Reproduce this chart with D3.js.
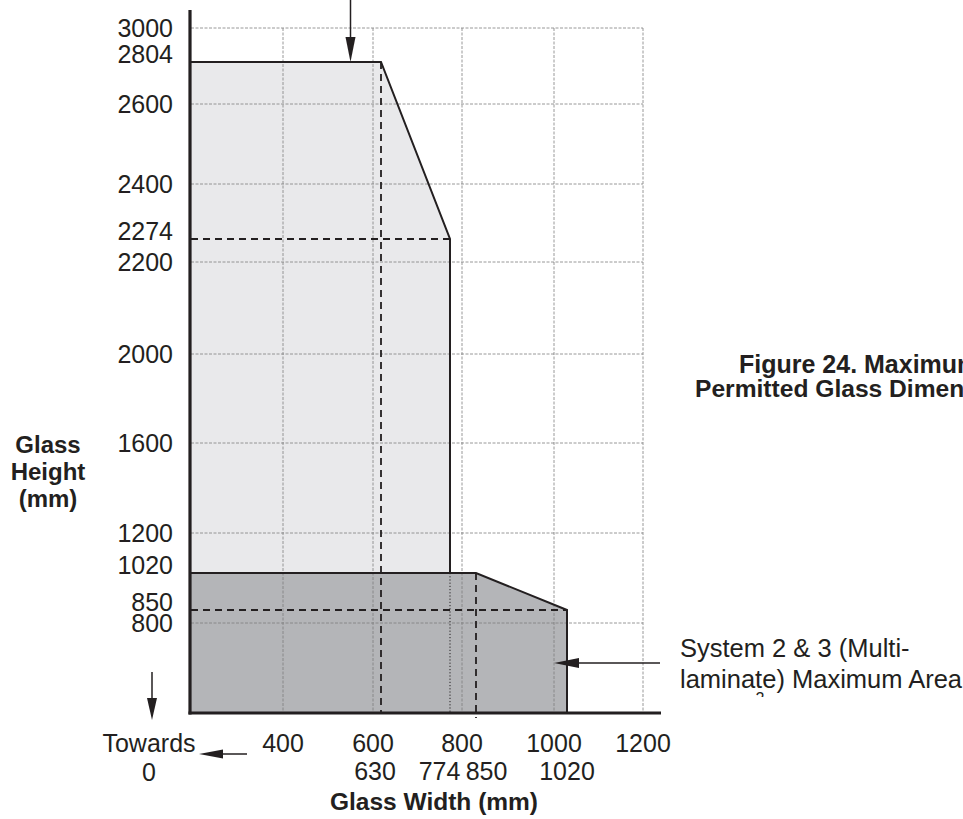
<!DOCTYPE html>
<html>
<head>
<meta charset="utf-8">
<script src="https://cdn.jsdelivr.net/npm/d3@7"></script>
<style>
  html, body { margin: 0; padding: 0; background: #fff; }
  svg { display: block; }
  text { font-family: "Liberation Sans", Arial, Helvetica, sans-serif; fill: #231f20; }
</style>
</head>
<body>
<svg id="chart" width="963" height="819"></svg>
<script>
// ---------------- data ----------------
const yTicks = [3000, 2600, 2400, 2200, 2000, 1600, 1200, 800];      // grid values, height (mm)
const yMarks = [2804, 2274, 1020, 850];                             // limit values, height (mm)
const xTicks = [400, 600, 800, 1000, 1200];                         // grid values, width (mm)
const xMarks = [630, 774, 850, 1020];                               // limit values, width (mm)
const widthStart = 200;                                             // axis starts "towards 0"
// System 1 (upper, light) maximum area outline: [width, height]
const upperArea = [[200, 2804], [630, 2804], [774, 2274], [774, 1020]];
// System 2 & 3 (multi-laminate, dark) maximum area outline: [width, height]
const lowerArea = [[200, 0], [200, 1020], [850, 1020], [1020, 850], [1020, 0]];
const titleLines = ["Figure 24. Maximum", "Permitted Glass Dimensions"];
const yTitleLines = ["Glass", "Height", "(mm)"];
const xTitle = "Glass Width (mm)";
const noteLines = ["System 2 & 3 (Multi-", "laminate) Maximum Area"];
const towardsLines = ["Towards", "0"];

// ---------------- scales (the original drawing is hand-spaced: piecewise calibration) ----------------
const yDomain = [0, 800, 850, 1020, 1200, 1600, 2000, 2200, 2274, 2400, 2600, 2804, 3000];
const yRange  = [713, 623, 610, 573, 533, 443, 354, 262, 239, 184, 104, 62, 28];
const y = d3.scaleLinear().domain(yDomain).range(yRange);
const xDomain = [200, 400, 600, 630, 774, 800, 850, 1000, 1020, 1200];
const xRange  = [191, 283, 373, 381, 450, 462, 476, 554, 567, 643];
const x = d3.scaleLinear().domain(xDomain).range(xRange);

const svg = d3.select("#chart");
const ink = "#231f20";
const x0 = x(widthStart), xEnd = x(d3.max(xTicks));
const y0 = y(0), yTop = y(d3.max(yTicks));

// ---------------- fills ----------------
const line = d3.line().x(d => x(d[0])).y(d => y(d[1]));
const upperFill = [[widthStart, 0], ...upperArea, [upperArea[upperArea.length - 1][0], 0]];
svg.append("path").attr("d", line(upperFill) + "Z").attr("fill", "#e9e9eb").attr("stroke", "none");
svg.append("path").attr("d", line(lowerArea) + "Z").attr("fill", "#b4b5b8").attr("stroke", "none");

// ---------------- grid ----------------
const grid = svg.append("g").attr("stroke", "#7d7d7f").attr("stroke-width", 0.8)
  .attr("stroke-dasharray", "3,1.5").attr("fill", "none");
yTicks.forEach(v => grid.append("line").attr("x1", x0).attr("x2", xEnd).attr("y1", y(v)).attr("y2", y(v)));
xTicks.forEach(v => grid.append("line").attr("x1", x(v)).attr("x2", x(v)).attr("y1", yTop).attr("y2", y0));

// ---------------- reference (dashed) lines ----------------
const dash = svg.append("g").attr("stroke", ink).attr("stroke-width", 1.8)
  .attr("stroke-dasharray", "7,5").attr("fill", "none");
dash.append("line").attr("x1", x(xMarks[0])).attr("x2", x(xMarks[0])).attr("y1", y(yMarks[0])).attr("y2", y0);
dash.append("line").attr("x1", x0).attr("x2", x(xMarks[1])).attr("y1", y(yMarks[1])).attr("y2", y(yMarks[1]));
dash.append("line").attr("x1", x(xMarks[2])).attr("x2", x(xMarks[2])).attr("y1", y(yMarks[2])).attr("y2", y0 + 5);
dash.append("line").attr("x1", x0).attr("x2", x(xMarks[3])).attr("y1", y(yMarks[3])).attr("y2", y(yMarks[3]));
svg.append("line").attr("x1", x(xMarks[1])).attr("x2", x(xMarks[1])).attr("y1", y(yMarks[2])).attr("y2", y0)
  .attr("stroke", ink).attr("stroke-width", 1).attr("stroke-dasharray", "1.2,2");

// ---------------- outlines ----------------
svg.append("path").attr("d", line(upperArea)).attr("fill", "none").attr("stroke", ink).attr("stroke-width", 2);
svg.append("path").attr("d", line(lowerArea.slice(1))).attr("fill", "none").attr("stroke", ink).attr("stroke-width", 2);

// ---------------- axes ----------------
svg.append("line").attr("x1", x0 - 1).attr("x2", x0 - 1).attr("y1", 10).attr("y2", y0 + 1.5)
  .attr("stroke", ink).attr("stroke-width", 3.2);
svg.append("line").attr("x1", x0 - 2.5).attr("x2", 661).attr("y1", y0).attr("y2", y0)
  .attr("stroke", ink).attr("stroke-width", 3.2);

// ---------------- tick labels ----------------
const fs = 25;
const yl = svg.append("g").attr("font-size", fs).attr("text-anchor", "end");
yTicks.forEach(v => yl.append("text").attr("x", 173).attr("y", y(v)).attr("dy", "0.35em").text(v));
yMarks.forEach(v => yl.append("text").attr("x", 173).attr("y", y(v) - 8).attr("dy", "0.35em").text(v));

const xl = svg.append("g").attr("font-size", fs).attr("text-anchor", "middle");
xTicks.forEach(v => xl.append("text").attr("x", x(v)).attr("y", y0 + 39).text(v));
// second row: relax positions so neighbouring labels do not overlap
const pos = xMarks.map(v => x(v));
const minSep = 47;
for (let it = 0; it < 50; it++) {
  for (let i = 1; i < pos.length; i++) {
    const gap = pos[i] - pos[i - 1];
    if (gap < minSep) { const d = (minSep - gap) / 2; pos[i - 1] -= d; pos[i] += d; }
  }
}
xMarks.forEach((v, i) => xl.append("text").attr("x", pos[i] - (i === 0 ? 6 : 0)).attr("y", y0 + 67).text(v));

// ---------------- titles ----------------
svg.append("text").attr("x", 434).attr("y", y0 + 97).attr("text-anchor", "middle")
  .attr("font-size", 24.5).attr("font-weight", "bold").text(xTitle);
yTitleLines.forEach((t, i) => svg.append("text").attr("x", 48).attr("y", 453 + i * 27)
  .attr("text-anchor", "middle").attr("font-size", 24).attr("font-weight", "bold").text(t));
svg.append("text").attr("x", 739).attr("y", 373).attr("font-size", 25).attr("font-weight", "bold").text(titleLines[0]);
svg.append("text").attr("x", 695).attr("y", 397).attr("font-size", 24.6).attr("font-weight", "bold").text(titleLines[1]);
towardsLines.forEach((t, i) => svg.append("text").attr("x", 149).attr("y", y0 + 39 + i * 29)
  .attr("text-anchor", "middle").attr("font-size", fs).text(t));
noteLines.forEach((t, i) => svg.append("text").attr("x", 680).attr("y", 657 + i * 31)
  .attr("font-size", 25.5).text(t));
// clipped superscript fragment under the note
svg.append("clipPath").attr("id", "supClip").append("rect").attr("x", 740).attr("y", 690).attr("width", 40).attr("height", 7);
svg.append("text").attr("x", 760).attr("y", 704).attr("text-anchor", "middle").attr("font-size", 16)
  .attr("clip-path", "url(#supClip)").text("2");

// ---------------- arrows ----------------
function arrow(x1, y1, x2, y2, len, wid) {
  const a = Math.atan2(y2 - y1, x2 - x1);
  const bx = x2 - len * Math.cos(a), by = y2 - len * Math.sin(a);
  const px = -Math.sin(a) * wid / 2, py = Math.cos(a) * wid / 2;
  svg.append("line").attr("x1", x1).attr("y1", y1).attr("x2", bx).attr("y2", by)
    .attr("stroke", ink).attr("stroke-width", 1.5);
  svg.append("path").attr("d", `M${x2},${y2}L${bx + px},${by + py}L${bx - px},${by - py}Z`).attr("fill", ink);
}
arrow(x(550), 0, x(550), y(yMarks[0]), 25, 10);          // top: points at upper limit
arrow(660, y(444), x(1000), y(444), 25, 10);             // note arrow into lower area
arrow(152, 672, 152, y0 + 7, 22, 10);                    // towards 0 (height)
arrow(247, y0 + 41, 199, y0 + 41, 24, 9);                // towards 0 (width)
</script>
</body>
</html>
